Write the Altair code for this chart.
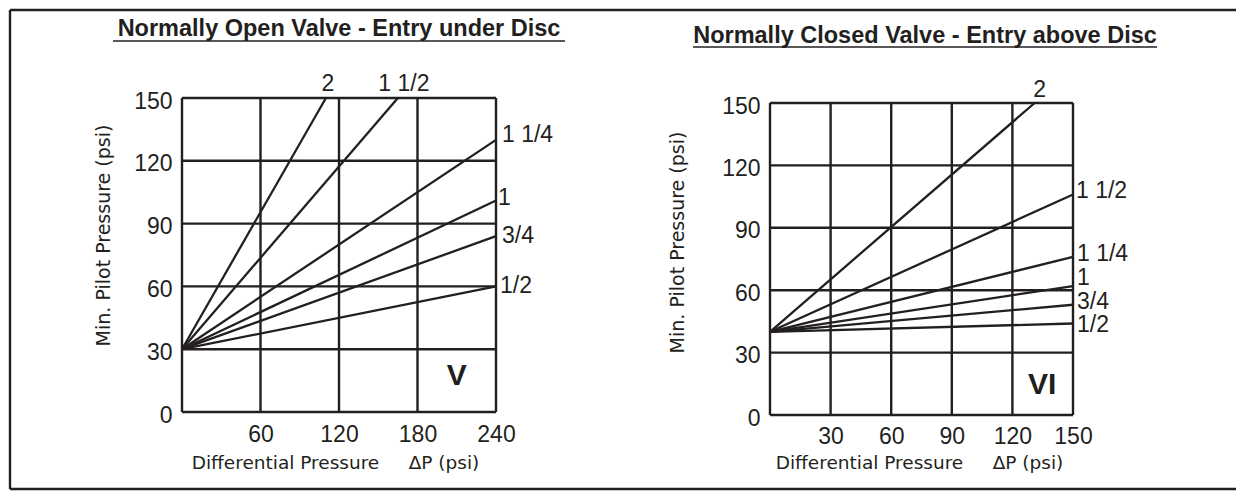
import altair as alt
import pandas as pd

# ---------------- data ----------------
sizes = ["1/2", "3/4", "1", "1 1/4", "1 1/2", "2"]

left_start_y = 30
left_end_x = [240, 240, 240, 240, 165, 110]
left_end_y = [60, 84, 101, 130, 150, 150]

right_start_y = 40
right_end_x = [150, 150, 150, 150, 150, 131]
right_end_y = [44, 53, 62, 76, 106, 150]

left_x_grid = [0, 60, 120, 180, 240]
left_x_labels = [60, 120, 180, 240]
right_x_grid = [0, 30, 60, 90, 120, 150]
right_x_labels = [30, 60, 90, 120, 150]
y_grid = [0, 30, 60, 90, 120, 150]

left_title = "Normally Open Valve - Entry under Disc"
right_title = "Normally Closed Valve - Entry above Disc"
left_tag = "V"
right_tag = "VI"
left_tag_xy = (210, 12.8)
right_tag_xy = (134.7, 10.3)
y_title = "Min. Pilot Pressure (psi)"
x_title = "Differential Pressure" + "\u00a0" * 5 + "\u0394P (psi)"

# ---------------- styling / layout ----------------
INK = "#231f20"
NUM_FONT = "Liberation Sans"
TITLE_FONT = "DejaVu Sans"
NUM_SIZE = 23

LEFT_LABEL_STYLE = {
    "2": dict(dx=2, dy=-7, align="center", baseline="alphabetic"),
    "1 1/2": dict(dx=6, dy=-7, align="center", baseline="alphabetic"),
    "1 1/4": dict(dx=6, dy=-5, align="left", baseline="middle"),
    "1": dict(dx=2, dy=-3, align="left", baseline="middle"),
    "3/4": dict(dx=6, dy=0, align="left", baseline="middle"),
    "1/2": dict(dx=4, dy=0, align="left", baseline="middle"),
}
RIGHT_LABEL_STYLE = {
    "2": dict(dx=5, dy=-6, align="center", baseline="alphabetic"),
    "1 1/2": dict(dx=3, dy=-4, align="left", baseline="middle"),
    "1 1/4": dict(dx=4, dy=-3, align="left", baseline="middle"),
    "1": dict(dx=4, dy=-8, align="left", baseline="middle"),
    "3/4": dict(dx=4, dy=-3, align="left", baseline="middle"),
    "1/2": dict(dx=4, dy=2, align="left", baseline="middle"),
}

ONE = pd.DataFrame({"a": [0]})


def segment(x1, y1, x2, y2, width=2.4):
    return alt.Chart(ONE).mark_rule(color=INK, strokeWidth=width).encode(
        x=alt.value(x1), y=alt.value(y1), x2=alt.value(x2), y2=alt.value(y2))


def panel(start_y, end_x, end_y, x_grid, x_labels, x_max, width, height,
          y_range, label_style, tag, tag_xy, title, title_x, title_y,
          underline_half, underline_y, ytitle_x, ytitle_y, xtitle_x, xtitle_y,
          x_label_pad, border=None):
    xs = alt.Scale(domain=[0, x_max], nice=False, zero=False)
    if y_range is None:
        ys = alt.Scale(domain=[0, 150], nice=False, zero=False)
    else:
        ys = alt.Scale(domain=[0, 150], nice=False, zero=False, range=y_range)

    xaxis = alt.Axis(values=x_labels, title=x_title, domain=False, ticks=False,
                     tickSize=0, grid=False, labelFlush=False,
                     labelFont=NUM_FONT, labelFontSize=NUM_SIZE, labelColor=INK,
                     labelPadding=x_label_pad,
                     titleFont=TITLE_FONT, titleFontSize=18.5,
                     titleFontWeight="normal", titleColor=INK,
                     titleX=xtitle_x, titleY=xtitle_y, titleAlign="center",
                     titleBaseline="alphabetic")
    yaxis = alt.Axis(values=y_grid, title=y_title, domain=False, ticks=False,
                     tickSize=0, grid=False, labelFlush=False,
                     labelFont=NUM_FONT, labelFontSize=NUM_SIZE, labelColor=INK,
                     labelPadding=10, labelOffset=3,
                     titleFont=TITLE_FONT, titleFontSize=19,
                     titleFontWeight="normal", titleColor=INK,
                     titleX=ytitle_x, titleY=ytitle_y, titleAlign="center",
                     titleBaseline="alphabetic", titleAngle=270)

    def X(f):
        return alt.X(f, type="quantitative", scale=xs, axis=xaxis)

    def Y(f):
        return alt.Y(f, type="quantitative", scale=ys, axis=yaxis)

    vgrid = pd.DataFrame({"gx": x_grid, "gy0": [0] * len(x_grid),
                          "gy1": [150] * len(x_grid)})
    hgrid = pd.DataFrame({"gy": y_grid, "gx0": [0] * len(y_grid),
                          "gx1": [x_max] * len(y_grid)})

    layers = []
    layers.append(alt.Chart(vgrid).mark_rule(color=INK, strokeWidth=2.4).encode(
        x=X("gx"), y=Y("gy0"), y2=alt.Y2("gy1")))
    layers.append(alt.Chart(hgrid).mark_rule(color=INK, strokeWidth=2.4).encode(
        y=Y("gy"), x=X("gx0"), x2=alt.X2("gx1")))

    rows = []
    for s, ex, ey in zip(sizes, end_x, end_y):
        rows.append({"size": s, "x": 0, "y": start_y, "o": 0})
        rows.append({"size": s, "x": ex, "y": ey, "o": 1})
    lines = pd.DataFrame(rows)
    layers.append(alt.Chart(lines).mark_line(color=INK, strokeWidth=2.3).encode(
        x=X("x"), y=Y("y"), detail="size:N", order="o:Q"))

    for s, ex, ey in zip(sizes, end_x, end_y):
        st = label_style[s]
        df = pd.DataFrame({"x": [ex], "y": [ey], "t": [s]})
        layers.append(alt.Chart(df).mark_text(
            font=NUM_FONT, fontSize=NUM_SIZE, color=INK, dx=st["dx"], dy=st["dy"],
            align=st["align"], baseline=st["baseline"]).encode(
            x=X("x"), y=Y("y"), text="t:N"))

    tdf = pd.DataFrame({"x": [tag_xy[0]], "y": [tag_xy[1]], "t": [tag]})
    layers.append(alt.Chart(tdf).mark_text(
        font=NUM_FONT, fontSize=30, fontWeight="bold", color=INK,
        align="center", baseline="alphabetic").encode(
        x=X("x"), y=Y("y"), text="t:N"))

    layers.append(alt.Chart(ONE).mark_text(
        font=NUM_FONT, fontSize=23.5, fontWeight="bold", color=INK,
        align="center", baseline="alphabetic").encode(
        x=alt.value(title_x), y=alt.value(title_y), text=alt.value(title)))
    layers.append(segment(title_x - underline_half, underline_y,
                          title_x + underline_half, underline_y, 1.6))

    if border is not None:
        bl, bt, br, bb = border
        layers.append(segment(bl, bt, bl, bb))
        layers.append(segment(bl, bt, br, bt))
        layers.append(segment(bl, bb, br, bb))

    return alt.layer(*layers).properties(width=width, height=height)


left = panel(left_start_y, left_end_x, left_end_y, left_x_grid, left_x_labels,
             240, 314, 314, None, LEFT_LABEL_STYLE, left_tag, left_tag_xy,
             left_title, 157, -62, 226, -57, -73, 137, 153, 56, 11,
             border=(-172, -88, 1054, 391))
right = panel(right_start_y, right_end_x, right_end_y, right_x_grid,
              right_x_labels, 150, 303, 317, [317, 5], RIGHT_LABEL_STYLE,
              right_tag, right_tag_xy, right_title, 155, -55, 232, -51,
              -87, 144, 149, 53, 10)

chart = alt.hconcat(left, right, spacing=274, bounds="flush").properties(
    padding=0, background="white"
).configure_view(strokeWidth=0)

chart.save("out.html", embed_options={"renderer": "svg", "actions": False})
